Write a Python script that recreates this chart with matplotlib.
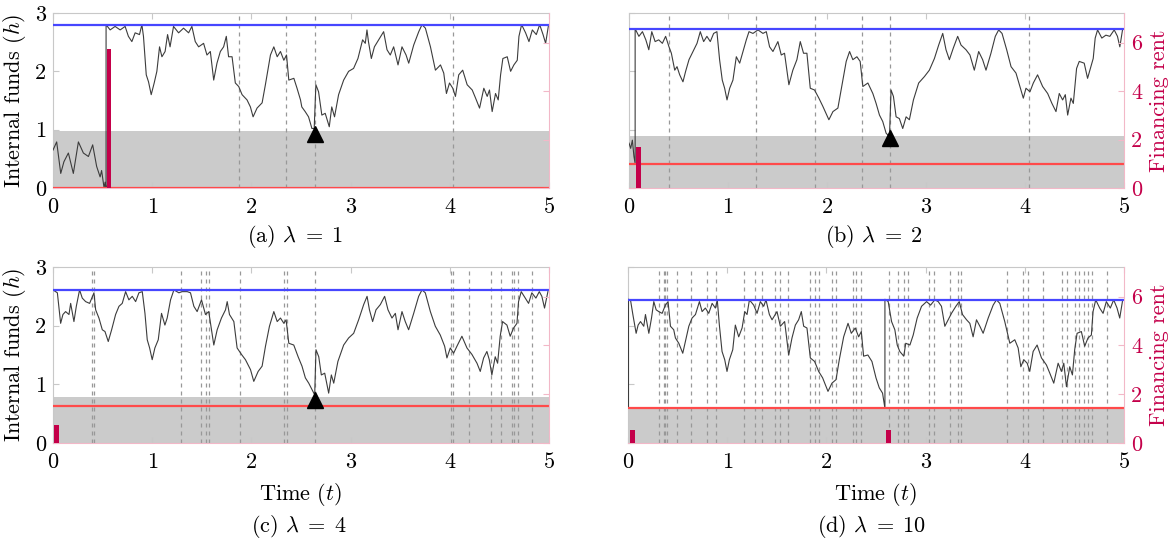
import matplotlib
matplotlib.use("Agg")
import matplotlib.pyplot as plt

plt.rcParams['font.family'] = ['cmr10']
plt.rcParams['mathtext.fontset'] = 'cm'
plt.rcParams['axes.unicode_minus'] = False
plt.rcParams['axes.formatter.use_mathtext'] = True

# ---------------- data ----------------
# (a) lambda = 1
t_a = [0, 0.037, 0.078, 0.11, 0.155, 0.205, 0.256, 0.306, 0.357, 0.40, 0.44, 0.475, 0.49, 0.515, 0.525, 0.535,
       0.535, 0.576, 0.626, 0.677, 0.727, 0.76, 0.795, 0.828, 0.872, 0.896, 0.912, 0.94, 0.963, 0.99, 1.02, 1.047,
       1.074, 1.098, 1.13, 1.155, 1.18, 1.215, 1.266, 1.316, 1.367, 1.40, 1.434, 1.468, 1.518, 1.552, 1.586, 1.62,
       1.653, 1.687, 1.72, 1.747, 1.77, 1.805, 1.838, 1.872, 1.906, 1.956, 1.99, 2.017, 2.057, 2.108, 2.141, 2.192,
       2.226, 2.26, 2.293, 2.327, 2.354, 2.377, 2.428, 2.46, 2.495, 2.508, 2.542, 2.576, 2.61, 2.633, 2.65, 2.677,
       2.71, 2.744, 2.785, 2.81, 2.838, 2.879, 2.93, 2.98, 3.03, 3.074, 3.121, 3.148, 3.165, 3.18, 3.209, 3.24,
       3.283, 3.333, 3.367, 3.40, 3.434, 3.478, 3.518, 3.559, 3.586, 3.636, 3.687, 3.72, 3.754, 3.805, 3.855, 3.906,
       3.939, 3.966, 3.997, 4.03, 4.057, 4.09, 4.13, 4.175, 4.226, 4.26, 4.30, 4.343, 4.377, 4.40, 4.427, 4.461,
       4.488, 4.512, 4.535, 4.579, 4.613, 4.646, 4.68, 4.697, 4.724, 4.764, 4.798, 4.832, 4.872, 4.906, 4.94, 4.966,
       4.993]
h_a = [0.65, 0.79, 0.25, 0.45, 0.60, 0.25, 0.79, 0.60, 0.54, 0.74, 0.37, 0.19, 0.30, 0.0, 0.10, 0.0,
       2.80, 2.71, 2.77, 2.71, 2.77, 2.60, 2.51, 2.66, 2.63, 2.80, 2.60, 1.94, 1.82, 1.60, 1.80, 2.00,
       2.42, 2.25, 2.34, 2.63, 2.42, 2.77, 2.66, 2.74, 2.66, 2.77, 2.51, 2.42, 2.48, 2.28, 2.34, 1.85,
       2.14, 2.34, 2.42, 2.60, 2.25, 2.25, 1.80, 1.74, 1.60, 1.51, 1.39, 1.22, 1.37, 1.46, 1.77, 2.28,
       2.42, 2.25, 2.34, 2.19, 2.28, 1.85, 1.88, 1.71, 1.51, 1.39, 1.31, 1.22, 1.02, 1.02, 1.77, 1.65,
       1.25, 1.28, 1.05, 1.39, 1.22, 1.60, 1.85, 2.00, 2.05, 2.22, 2.54, 2.48, 2.71, 2.51, 2.22, 2.42,
       2.54, 2.68, 2.37, 2.28, 2.42, 2.11, 2.42, 2.28, 2.14, 2.45, 2.68, 2.80, 2.74, 2.42, 2.02, 2.11,
       1.97, 1.62, 1.80, 1.71, 1.57, 1.94, 2.02, 1.77, 1.68, 1.54, 1.37, 1.71, 1.57, 1.68, 1.31, 1.62,
       1.51, 1.94, 2.22, 2.25, 2.00, 2.11, 2.19, 2.60, 2.80, 2.66, 2.51, 2.71, 2.63, 2.80, 2.63, 2.48,
       2.77]

# (b) lambda = 2
t_b = [0, 0.017, 0.034, 0.05, 0.062, 0.062, 0.10, 0.136, 0.17, 0.20, 0.23, 0.264, 0.30, 0.337, 0.37, 0.404,
       0.428, 0.462, 0.485, 0.512, 0.545, 0.572, 0.606, 0.646, 0.687, 0.72, 0.754, 0.787, 0.821, 0.855, 0.888,
       0.915, 0.942, 0.966, 0.99, 1.017, 1.05, 1.084, 1.118, 1.151, 1.185, 1.212, 1.252, 1.303, 1.353, 1.387,
       1.42, 1.454, 1.504, 1.538, 1.571, 1.615, 1.655, 1.696, 1.73, 1.763, 1.797, 1.831, 1.874, 1.918, 1.958,
       2.019, 2.06, 2.11, 2.16, 2.194, 2.228, 2.261, 2.302, 2.335, 2.362, 2.413, 2.463, 2.496, 2.53, 2.563,
       2.597, 2.631, 2.647, 2.671, 2.698, 2.731, 2.765, 2.799, 2.832, 2.873, 2.926, 2.984, 3.034, 3.085, 3.128,
       3.169, 3.202, 3.236, 3.276, 3.32, 3.354, 3.404, 3.444, 3.488, 3.532, 3.572, 3.606, 3.656, 3.70, 3.734,
       3.768, 3.815, 3.859, 3.909, 3.959, 3.983, 4.01, 4.05, 4.084, 4.127, 4.178, 4.229, 4.272, 4.313, 4.346,
       4.38, 4.407, 4.431, 4.464, 4.488, 4.521, 4.548, 4.598, 4.632, 4.665, 4.689, 4.709, 4.733, 4.776, 4.817,
       4.857, 4.901, 4.934, 4.958, 4.985]
h_b = [0.77, 0.68, 0.82, 0.54, 0.42, 2.73, 2.60, 2.68, 2.54, 2.37, 2.68, 2.51, 2.54, 2.48, 2.60, 2.42,
       2.31, 2.02, 2.08, 1.94, 1.82, 2.00, 2.20, 2.34, 2.48, 2.68, 2.51, 2.60, 2.51, 2.65, 2.68,
       2.20, 1.85, 1.71, 1.51, 1.71, 1.85, 2.25, 2.14, 2.34, 2.54, 2.68, 2.65, 2.71, 2.65, 2.68,
       2.42, 2.34, 2.51, 2.28, 2.31, 1.77, 2.02, 2.20, 2.51, 2.31, 2.31, 1.71, 1.68, 1.54, 1.40,
       1.17, 1.31, 1.37, 1.85, 2.17, 2.34, 2.20, 2.25, 2.17, 1.74, 1.80, 1.62, 1.45, 1.25, 1.14,
       0.94, 0.88, 1.68, 1.57, 1.22, 1.19, 1.02, 1.22, 1.17, 1.51, 1.80, 1.91, 2.02, 2.22, 2.45,
       2.65, 2.37, 2.20, 2.40, 2.60, 2.45, 2.37, 2.28, 2.02, 2.34, 2.20, 2.02, 2.31, 2.60, 2.71,
       2.65, 2.37, 2.08, 1.97, 1.68, 1.54, 1.71, 1.65, 1.80, 1.94, 1.74, 1.62, 1.45, 1.31, 1.62,
       1.51, 1.60, 1.25, 1.54, 1.45, 2.05, 2.17, 2.14, 1.88, 2.08, 2.22, 2.57, 2.71, 2.57, 2.62,
       2.60, 2.71, 2.60, 2.42, 2.71]

# (c) lambda = 4
t_c = [0.0, 0.044, 0.077, 0.10, 0.127, 0.161, 0.178, 0.211, 0.235, 0.268, 0.295, 0.329, 0.369, 0.413, 0.43,
       0.463, 0.497, 0.524, 0.557, 0.591, 0.631, 0.665, 0.698, 0.732, 0.765, 0.799, 0.833, 0.866, 0.90, 0.927,
       0.95, 0.974, 1.0, 1.027, 1.061, 1.094, 1.128, 1.151, 1.185, 1.219, 1.269, 1.302, 1.353, 1.386, 1.42,
       1.453, 1.497, 1.537, 1.57, 1.621, 1.655, 1.698, 1.739, 1.756, 1.779, 1.823, 1.856, 1.90, 1.94, 1.991,
       2.024, 2.068, 2.108, 2.142, 2.182, 2.226, 2.26, 2.293, 2.327, 2.35, 2.377, 2.427, 2.471, 2.51, 2.544,
       2.578, 2.611, 2.638, 2.651, 2.679, 2.705, 2.739, 2.779, 2.806, 2.83, 2.872, 2.93, 2.98, 3.031, 3.081,
       3.132, 3.166, 3.19, 3.222, 3.256, 3.30, 3.343, 3.377, 3.417, 3.451, 3.478, 3.518, 3.551, 3.585, 3.636,
       3.686, 3.72, 3.753, 3.804, 3.854, 3.904, 3.948, 3.971, 4.005, 4.038, 4.072, 4.122, 4.173, 4.223, 4.274,
       4.307, 4.341, 4.374, 4.398, 4.424, 4.458, 4.482, 4.508, 4.532, 4.576, 4.609, 4.643, 4.677, 4.693, 4.72,
       4.761, 4.794, 4.827, 4.868, 4.902, 4.928, 4.955, 4.989]
h_c = [2.61, 2.56, 2.04, 2.19, 2.24, 2.19, 2.38, 2.07, 2.33, 2.61, 2.47, 2.41, 2.38, 2.56, 2.27,
       2.13, 1.93, 1.90, 1.73, 1.93, 2.19, 2.33, 2.38, 2.58, 2.44, 2.50, 2.41, 2.56, 2.58, 2.21,
       1.76, 1.62, 1.42, 1.62, 1.76, 2.21, 2.01, 2.13, 2.44, 2.61, 2.56, 2.58, 2.58, 2.56, 2.33,
       2.24, 2.44, 2.19, 2.24, 1.67, 1.93, 2.13, 2.27, 2.41, 2.19, 2.07, 1.62, 1.51, 1.42, 1.25,
       1.05, 1.22, 1.31, 1.65, 1.99, 2.24, 2.07, 2.13, 2.04, 2.10, 1.70, 1.67, 1.47, 1.31, 1.11,
       1.02, 0.91, 0.82, 1.59, 1.47, 1.16, 1.19, 0.85, 1.16, 1.02, 1.39, 1.67, 1.79, 1.87, 2.10,
       2.36, 2.50, 2.27, 2.07, 2.27, 2.36, 2.50, 2.27, 2.13, 2.21, 1.93, 2.24, 2.07, 1.93, 2.21,
       2.50, 2.61, 2.56, 2.24, 1.99, 1.84, 1.65, 1.45, 1.62, 1.53, 1.65, 1.82, 1.62, 1.51, 1.36,
       1.22, 1.45, 1.56, 1.42, 1.16, 1.47, 1.36, 1.82, 2.07, 2.01, 1.82, 1.96, 2.04, 2.41, 2.58,
       2.47, 2.38, 2.56, 2.47, 2.58, 2.50, 2.30, 2.58]

# (d) lambda = 10
t_d = [0.0, 0.005, 0.005, 0.025, 0.049, 0.082, 0.102, 0.126, 0.159, 0.176, 0.21, 0.237, 0.26, 0.284, 0.31,
       0.344, 0.377, 0.404, 0.428, 0.461, 0.478, 0.512, 0.552, 0.579, 0.613, 0.646, 0.68, 0.72, 0.747, 0.78,
       0.814, 0.848, 0.881, 0.90, 0.921, 0.948, 0.975, 0.998, 1.022, 1.056, 1.082, 1.116, 1.15, 1.177, 1.20,
       1.224, 1.267, 1.301, 1.334, 1.368, 1.391, 1.425, 1.452, 1.502, 1.536, 1.579, 1.62, 1.653, 1.687, 1.72,
       1.747, 1.771, 1.804, 1.838, 1.881, 1.922, 1.962, 2.016, 2.056, 2.097, 2.13, 2.174, 2.218, 2.251, 2.291,
       2.325, 2.352, 2.375, 2.418, 2.459, 2.50, 2.533, 2.566, 2.59, 2.59, 2.623, 2.657, 2.69, 2.714, 2.74,
       2.78, 2.80, 2.842, 2.875, 2.915, 2.959, 3.01, 3.05, 3.093, 3.127, 3.16, 3.194, 3.227, 3.261, 3.305,
       3.339, 3.372, 3.413, 3.446, 3.479, 3.513, 3.547, 3.58, 3.631, 3.681, 3.714, 3.748, 3.798, 3.849, 3.899,
       3.933, 3.96, 3.99, 4.024, 4.05, 4.084, 4.124, 4.168, 4.218, 4.252, 4.292, 4.336, 4.369, 4.393, 4.42,
       4.453, 4.48, 4.503, 4.527, 4.57, 4.604, 4.637, 4.671, 4.688, 4.715, 4.755, 4.789, 4.822, 4.862, 4.896,
       4.93, 4.957, 4.984]
h_d = [0.70, 0.59, 2.45, 2.44, 2.19, 1.87, 2.01, 2.07, 1.99, 2.19, 1.87, 2.13, 2.41, 2.27, 2.24,
       2.21, 2.35, 2.41, 1.99, 1.93, 1.79, 1.70, 1.53, 1.73, 1.99, 2.13, 2.19, 2.41, 2.24, 2.30,
       2.21, 2.38, 2.30, 2.44, 2.01, 1.56, 1.42, 1.22, 1.42, 1.59, 2.01, 1.81, 1.96, 2.24, 2.19,
       2.44, 2.35, 2.21, 2.41, 2.33, 2.44, 2.19, 2.10, 2.24, 1.99, 2.07, 1.50, 1.79, 2.01, 2.10,
       2.24, 1.99, 1.96, 1.45, 1.39, 1.22, 1.11, 0.88, 1.02, 1.08, 1.42, 1.81, 2.04, 1.87, 1.96,
       1.81, 1.90, 1.48, 1.50, 1.39, 1.11, 0.94, 0.85, 0.59, 2.45, 2.41, 2.07, 1.93, 1.67, 1.56,
       1.48, 1.70, 1.67, 1.84, 2.13, 2.33, 2.41, 2.35, 2.44, 2.41, 2.33, 1.99, 2.10, 2.21, 2.33,
       2.41, 2.19, 2.10, 2.04, 1.81, 2.10, 1.99, 1.87, 2.13, 2.35, 2.44, 2.38, 2.07, 1.70, 1.76,
       1.62, 1.30, 1.42, 1.36, 1.22, 1.56, 1.67, 1.45, 1.33, 1.19, 1.02, 1.36, 1.22, 1.36, 0.96,
       1.30, 1.16, 1.59, 1.87, 1.90, 1.65, 1.79, 1.84, 2.24, 2.44, 2.30, 2.21, 2.41, 2.30, 2.44,
       2.30, 2.13, 2.41]

# upper barrier (blue), lower level (red), shaded region top (grey) in internal-funds units
upper = {'a': 2.80, 'b': 2.73, 'c': 2.61, 'd': 2.44}
lower = {'a': 0.0, 'b': 0.41, 'c': 0.635, 'd': 0.59}
shade = {'a': 0.97, 'b': 0.89, 'c': 0.78, 'd': 0.59}

# vertical dashed event times
ev_a = [1.88, 2.35, 2.64, 4.03]
ev_b = [0.40, 1.28, 1.88, 2.35, 2.64, 4.04]
ev_c = [0.393, 0.416, 1.286, 1.49, 1.544, 1.571, 1.886, 2.333, 2.357, 2.638, 4.01, 4.03, 4.19, 4.42, 4.52,
        4.63, 4.65, 4.69, 4.83]
ev_d = [0.31, 0.36, 0.378, 0.395, 0.495, 0.64, 0.80, 0.888, 1.173, 1.277, 1.351, 1.485, 1.536, 1.613, 1.838,
        1.888, 1.929, 2.056, 2.093, 2.264, 2.298, 2.351, 2.633, 2.724, 2.78, 2.818, 3.036, 3.087, 3.244, 3.331,
        3.358, 3.825, 3.983, 4.033, 4.184, 4.376, 4.423, 4.503, 4.544, 4.597, 4.637, 4.678, 4.824]

# financing rent bars (time, value on right axis)
bar_t_a = [0.54];        bar_v_a = [5.74]
bar_t_b = [0.072];       bar_v_b = [1.69]
bar_t_c = [0.01];        bar_v_c = [0.72]
bar_t_d = [0.02, 2.60];  bar_v_d = [0.52, 0.52]

# triangle markers (time, h)
tri_a = (2.64, 0.92)
tri_b = (2.64, 0.85)
tri_c = (2.638, 0.74)

x_ticks = [0, 1, 2, 3, 4, 5]
y_ticks = [0, 1, 2, 3]
r_ticks = [0, 2, 4, 6]
captions = [r'(a) $\lambda\;=\;1$', r'(b) $\lambda\;=\;2$', r'(c) $\lambda\;=\;4$', r'(d) $\lambda\;=\;10$']

# ---------------- drawing ----------------
W, H = 1172, 544
FS = 16
CRIM = '#c4004a'
SPINE = '#c8c8c8'
PINK = '#f2b8c8'

fig = plt.figure(figsize=(W / 100, H / 100), dpi=100)


def px_axes(x0, x1, y0, y1):
    return fig.add_axes([x0 / W, 1 - y1 / H, (x1 - x0) / W, (y1 - y0) / H])


def panel(box, t, h, key, ev, bt, bv, tri, left_labels, right_labels, xlabel):
    ax = px_axes(*box)
    ax.set_xlim(0, 5)
    ax.set_ylim(0, 3)
    ax.fill_between([0, 5], 0, shade[key], color='#cbcbcb', lw=0, zorder=0)
    for e in ev:
        ax.axvline(e, color='#989898', lw=0.9, dashes=(3.2, 3.2), zorder=1)
    ax.plot(t, h, color='#3c3c3c', lw=0.8, zorder=3)
    ax.axhline(upper[key], color='#4646ff', lw=1.6, zorder=4)
    ax.axhline(lower[key], color='#ff4a4a', lw=1.6, zorder=4)
    if tri is not None:
        ax.plot([tri[0]], [tri[1]], marker='^', color='black', ms=12, zorder=6)
    ax.set_xticks(x_ticks)
    ax.set_xticklabels([str(v) for v in x_ticks])
    ax.set_yticks(y_ticks)
    if left_labels:
        ax.set_yticklabels([str(v) for v in y_ticks])
        ax.set_ylabel(r'Internal funds ($h$)', fontsize=FS, labelpad=5)
    else:
        ax.set_yticklabels([])
    ax.tick_params(axis='x', direction='in', top=True, length=4, color=SPINE,
                   labelsize=FS, pad=7)
    ax.tick_params(axis='y', direction='in', length=4, color=SPINE, labelsize=FS, pad=5)
    for s in ['top', 'left']:
        ax.spines[s].set_color(SPINE)
    ax.spines['bottom'].set_color(PINK)
    ax.spines['right'].set_visible(False)
    if xlabel:
        ax.set_xlabel(r'Time ($t$)', fontsize=FS, labelpad=6)

    ax2 = ax.twinx()
    ax2.set_ylim(0, 7.22)
    ax2.bar(bt, bv, width=0.048, align='edge', color=CRIM, lw=0, zorder=2)
    ax2.set_yticks(r_ticks)
    for s in ['top', 'left', 'bottom']:
        ax2.spines[s].set_visible(False)
    ax2.spines['right'].set_color(PINK)
    ax2.tick_params(axis='y', direction='in', length=4, color=PINK, labelsize=FS,
                    labelcolor=CRIM, pad=5)
    if right_labels:
        ax2.set_yticklabels([str(v) for v in r_ticks])
        ax2.set_ylabel('Financing rent', fontsize=FS, color=CRIM, labelpad=5)
    else:
        ax2.set_yticklabels([])
    return ax


panel((53, 549, 13, 188), t_a, h_a, 'a', ev_a, bar_t_a, bar_v_a, tri_a, True, False, False)
panel((629, 1124, 13, 188), t_b, h_b, 'b', ev_b, bar_t_b, bar_v_b, tri_b, False, True, False)
panel((53, 549, 267, 443), t_c, h_c, 'c', ev_c, bar_t_c, bar_v_c, tri_c, True, False, True)
panel((628, 1124, 267, 443), t_d, h_d, 'd', ev_d, bar_t_d, bar_v_d, None, False, True, True)

cap_pos = [(295, 237), (874, 237), (299, 527), (872, 527)]
for (cx, cy), c in zip(cap_pos, captions):
    fig.text(cx / W, 1 - cy / H, c, fontsize=FS, ha='center', va='center')

fig.savefig('out.png', dpi=100)
